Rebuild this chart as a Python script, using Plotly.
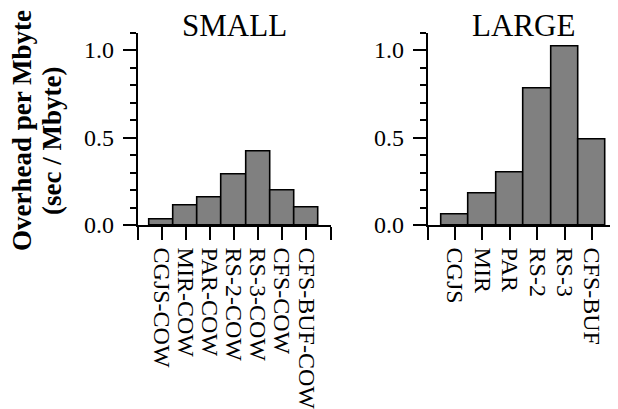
import plotly.graph_objects as go

# The page body has an 8px margin, so the figure is drawn 8px in from the window edge.
OFF = 8
W, H = 618 - OFF, 409 - OFF

small_labels = ["CGJS-COW", "MIR-COW", "PAR-COW", "RS-2-COW", "RS-3-COW", "CFS-COW", "CFS-BUF-COW"]
small_values = [0.03, 0.11, 0.16, 0.29, 0.42, 0.20, 0.10]

large_labels = ["CGJS", "MIR", "PAR", "RS-2", "RS-3", "CFS-BUF"]
large_values = [0.06, 0.18, 0.30, 0.78, 1.02, 0.49]

titles = ["SMALL", "LARGE"]
y_tick_vals = [0.0, 0.5, 1.0]
y_tick_text = ["0.0", "0.5", "1.0"]
y_title_lines = ["Overhead per Mbyte", "(sec / Mbyte)"]

FONT = "Liberation Serif"


def px_x(p):
    return (p - OFF) / W


def px_y(p):
    return 1 - (p - OFF) / H


fig = go.Figure()

fig.add_trace(go.Bar(
    x=list(range(len(small_values))), y=small_values, width=1.0,
    marker=dict(color="#808080", line=dict(color="black", width=1.6)),
    xaxis="x", yaxis="y", showlegend=False,
))
fig.add_trace(go.Bar(
    x=list(range(len(large_values))), y=large_values, width=1.0,
    marker=dict(color="#808080", line=dict(color="black", width=1.6)),
    xaxis="x2", yaxis="y2", showlegend=False,
))

y_dom = [px_y(225), px_y(32.5)]

common_x = dict(
    showline=True, linecolor="black", linewidth=1.6,
    ticks="outside", ticklen=13, tickwidth=1.6, tickcolor="black",
    tickangle=90, tickfont=dict(family=FONT, size=24, color="black"),
    ticklabelstandoff=3,
    showgrid=False, zeroline=False, automargin=False, fixedrange=True,
)
common_y = dict(
    showline=True, linecolor="black", linewidth=1.6,
    ticks="outside", ticklen=13, tickwidth=1.6, tickcolor="black",
    tickvals=y_tick_vals, ticktext=y_tick_text,
    tickfont=dict(family=FONT, size=24, color="black"),
    ticklabelstandoff=4,
    minor=dict(dtick=0.1, tick0=0, ticks="outside", ticklen=6, tickwidth=1.6, tickcolor="black"),
    range=[0, 1.1], showgrid=False, zeroline=False, automargin=False,
    domain=y_dom, fixedrange=True,
)

n_s = len(small_labels)
n_l = len(large_labels)

fig.update_layout(
    width=W, height=H,
    margin=dict(l=0, r=0, t=0, b=0),
    paper_bgcolor="white", plot_bgcolor="white",
    bargap=0,
    xaxis=dict(common_x, domain=[px_x(137.5), px_x(330.5)], range=[-1, n_s],
               tickvals=list(range(-1, n_s + 1)), ticktext=[""] + small_labels + [""], anchor="y"),
    yaxis=dict(common_y, anchor="x"),
    xaxis2=dict(common_x, domain=[px_x(427.5), 1.0], range=[-1, n_l - 0.06],
                tickvals=list(range(-1, n_l)), ticktext=[""] + large_labels, anchor="y2"),
    yaxis2=dict(common_y, anchor="x2"),
)

annotations = []
for title, dom in zip(titles, [(137.5, 330.5), (427.5, 619.5)]):
    annotations.append(dict(
        text=title, x=px_x((dom[0] + dom[1]) / 2), y=px_y(26), xref="paper", yref="paper",
        xanchor="center", yanchor="middle", showarrow=False,
        font=dict(family=FONT, size=31, color="black"),
    ))
for line, cx, cy in zip(y_title_lines, [22, 52], [131, 141]):
    annotations.append(dict(
        text="<b>" + line + "</b>", x=px_x(cx), y=px_y(cy), xref="paper", yref="paper",
        xanchor="center", yanchor="middle", textangle=-90, showarrow=False,
        font=dict(family=FONT, size=27, color="black"),
    ))
fig.update_layout(annotations=annotations)

fig.write_html("out.html")
